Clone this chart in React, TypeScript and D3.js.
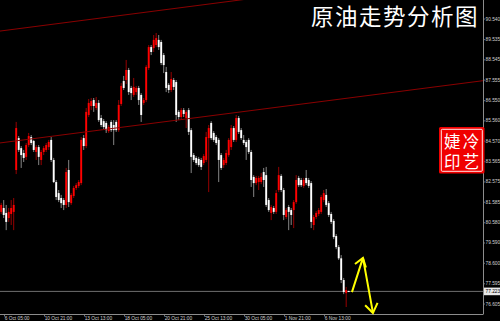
import React from "react";
import * as d3 from "d3";

// H4 candles, oldest first
const opens = [
  81.11, 81.30, 81.06, 80.81, 81.01, 81.11,
  83.16, 84.72, 84.23, 83.99, 83.80, 84.38, 84.77, 84.58, 84.04, 84.28,
  83.65, 84.04, 84.14, 84.28, 84.63, 83.65, 82.57, 82.03, 81.79, 81.69,
  81.45, 83.16, 81.54, 81.89, 82.28, 82.38, 82.52, 84.72, 84.33, 85.85,
  86.29, 86.58, 86.19, 86.44, 85.70, 85.55, 85.46, 85.06, 85.51, 85.36,
  85.51, 85.11, 86.39, 87.51, 87.56, 88.05, 87.17, 86.83, 86.97, 87.17,
  86.83, 86.44, 86.58, 88.15, 89.17, 89.12, 89.27, 89.52, 89.42, 88.78,
  87.95, 87.32, 87.07, 87.56, 87.46, 86.00, 85.75, 86.09, 85.70, 86.09,
  85.11, 83.89, 83.75, 83.70, 83.65, 83.50, 83.65, 84.72, 85.46, 84.97,
  84.77, 84.63, 83.89, 83.40, 83.50, 83.89, 84.28, 85.21, 84.63, 85.70,
  85.11, 84.63, 84.53, 84.63, 84.04, 82.82, 82.52, 82.57, 82.57, 83.06,
  82.91, 81.69, 81.06, 81.30, 81.11, 82.18, 82.87, 82.18, 80.86, 81.35,
  81.20, 81.20, 81.59, 82.77, 82.67, 82.38, 82.77, 82.67, 82.52, 80.47,
  80.86, 81.01, 81.11, 81.69, 81.94, 81.54, 81.01, 80.67, 79.93, 79.39,
  78.84, 77.78, 77.14, 77.24,
];
const highs = [
  81.55, 81.69, 81.45, 81.30, 81.69, 81.79,
  85.51, 84.82, 84.33, 84.14, 84.48, 84.97, 84.87, 84.63, 84.38, 84.38,
  84.14, 84.33, 84.48, 84.63, 84.77, 83.75, 82.67, 82.18, 81.94, 81.79,
  83.26, 83.65, 82.03, 82.38, 82.52, 82.67, 84.77, 84.87, 86.19, 86.63,
  86.68, 86.68, 86.73, 86.58, 85.85, 85.65, 85.55, 85.36, 85.60, 85.60,
  85.60, 86.58, 87.41, 87.76, 88.54, 88.15, 87.27, 87.66, 87.27, 87.27,
  86.92, 86.68, 88.29, 89.27, 89.27, 89.76, 89.86, 89.76, 89.52, 88.88,
  88.20, 87.41, 87.95, 87.66, 87.56, 86.09, 86.19, 86.19, 86.09, 86.19,
  85.21, 83.99, 83.84, 83.80, 83.75, 83.94, 85.02, 85.36, 85.55, 85.06,
  84.87, 84.72, 83.99, 83.75, 84.14, 84.72, 85.36, 85.31, 85.85, 85.80,
  85.21, 84.87, 84.63, 84.72, 84.14, 82.91, 82.87, 82.87, 83.01, 83.26,
  83.31, 81.79, 81.45, 81.40, 82.18, 83.31, 82.96, 82.28, 81.30, 81.45,
  81.30, 81.69, 82.91, 82.87, 82.77, 82.77, 83.16, 82.77, 82.62, 80.96,
  81.15, 81.30, 81.94, 82.18, 82.23, 81.64, 81.11, 80.76, 80.03, 79.49,
  79.00, 77.88, 77.44, 77.26,
];
const lows = [
  81.01, 80.81, 80.22, 80.62, 80.47, 80.22,
  82.96, 84.04, 83.26, 83.55, 83.65, 84.28, 84.38, 84.04, 83.65, 83.40,
  83.40, 83.89, 84.04, 84.14, 83.55, 82.52, 81.69, 81.59, 81.30, 81.20,
  81.30, 81.35, 81.45, 81.79, 82.18, 82.28, 82.42, 84.14, 84.23, 85.75,
  86.09, 86.00, 86.09, 85.51, 85.26, 85.16, 84.97, 84.97, 85.02, 84.38,
  85.02, 85.02, 86.29, 87.07, 87.36, 86.83, 86.58, 86.73, 86.83, 86.34,
  85.51, 86.34, 86.48, 88.05, 88.78, 88.93, 89.17, 89.03, 88.29, 87.90,
  86.97, 86.92, 86.97, 87.07, 85.51, 85.60, 85.65, 85.75, 85.21, 84.87,
  83.01, 83.55, 83.40, 83.31, 83.16, 83.40, 83.55, 82.08, 84.63, 84.53,
  84.38, 82.57, 83.16, 83.26, 83.40, 83.80, 84.14, 84.53, 84.53, 84.92,
  84.63, 84.38, 83.65, 83.94, 82.33, 81.84, 82.42, 82.18, 82.47, 82.33,
  81.35, 81.11, 80.71, 81.01, 81.01, 82.08, 82.08, 80.71, 80.76, 80.22,
  80.47, 80.32, 81.50, 82.33, 82.33, 82.28, 82.42, 82.28, 80.32, 80.22,
  80.76, 80.91, 81.01, 81.59, 81.35, 80.86, 80.52, 79.78, 79.29, 78.76,
  77.63, 77.09, 76.46, 77.21,
];
const closes = [
  81.45, 80.96, 80.62, 81.11, 81.30, 81.45,
  85.21, 84.14, 83.89, 83.75, 84.38, 84.82, 84.48, 84.14, 84.28, 83.80,
  84.04, 84.23, 84.38, 84.53, 83.65, 82.57, 81.84, 81.69, 81.54, 81.45,
  83.06, 81.59, 81.94, 82.28, 82.42, 82.57, 84.63, 84.33, 86.00, 86.44,
  86.53, 86.29, 86.44, 85.60, 85.36, 85.26, 85.11, 85.26, 85.11, 85.11,
  85.11, 86.34, 87.27, 87.17, 88.05, 86.97, 86.92, 87.22, 87.17, 86.58,
  85.85, 86.58, 88.20, 89.17, 88.93, 89.52, 89.61, 89.17, 88.39, 88.29,
  87.17, 87.07, 87.61, 87.22, 85.85, 85.75, 86.09, 85.90, 86.00, 85.02,
  83.80, 83.65, 83.50, 83.40, 83.31, 83.84, 84.77, 85.21, 84.72, 84.63,
  84.48, 83.65, 83.26, 83.65, 83.99, 84.63, 85.21, 84.63, 85.70, 85.02,
  84.72, 84.48, 84.28, 84.04, 82.67, 82.52, 82.77, 82.77, 82.82, 82.67,
  81.45, 81.20, 81.35, 81.11, 82.03, 82.91, 82.18, 80.96, 81.20, 81.11,
  80.96, 81.59, 82.67, 82.42, 82.42, 82.67, 82.52, 82.38, 80.62, 80.86,
  81.06, 81.20, 81.84, 82.03, 81.45, 80.96, 80.62, 79.88, 79.39, 78.84,
  77.78, 77.19, 77.29, 77.223,
];

// Time axis labels and the bar each one sits on
const timeLabels = [
  "6 Oct 05:00", "10 Oct 21:00", "13 Oct 13:00", "18 Oct 05:00", "20 Oct 21:00",
  "25 Oct 13:00", "30 Oct 05:00", "1 Nov 21:00", "6 Nov 13:00",
];
const timeLabelBars = [1, 17, 33, 49, 65, 81, 97, 113, 129];

// Price scale labels
const priceTicks = [
  91.53, 90.54, 89.535, 88.545, 87.555, 86.55, 85.56, 84.57, 83.565,
  82.575, 81.585, 80.58, 79.59, 78.6, 77.595, 76.605,
];

// Channel lines, as two anchors each (bar index, price)
const channelLower = [
  { bar: 0, price: 84.49 },
  { bar: 139, price: 86.68 },
];
const channelUpper = [
  { bar: 0, price: 89.96 },
  { bar: 139, price: 92.16 },
];

// Forecast arrow: up leg, then down leg
const arrowPoints = [
  { bar: 140.3, price: 77.19 },
  { bar: 144.7, price: 78.86 },
  { bar: 148.7, price: 76.17 },
];

const titleText = "原油走势分析图";
const sealChars = ["婕", "冷", "印", "艺"];

const W = 500;
const H = 321;
const PLOT_R = 483;
const PLOT_B = 314;
const SMALL_FONT = "'Liberation Sans', Arial, sans-serif";
const CJK_FONT = "'Noto Sans CJK SC', 'Noto Sans CJK TC', sans-serif";

function arrowHead(tip: [number, number], from: [number, number], len: number, ang: number) {
  const dx = tip[0] - from[0];
  const dy = tip[1] - from[1];
  const d = Math.hypot(dx, dy);
  const bx = -dx / d;
  const by = -dy / d;
  const c = Math.cos(ang);
  const s = Math.sin(ang);
  const w1: [number, number] = [tip[0] + len * (bx * c - by * s), tip[1] + len * (bx * s + by * c)];
  const w2: [number, number] = [tip[0] + len * (bx * c + by * s), tip[1] + len * (-bx * s + by * c)];
  return `M${w1[0]},${w1[1]}L${tip[0]},${tip[1]}L${w2[0]},${w2[1]}`;
}

export default function App() {
  const n = closes.length;
  const x = d3.scaleLinear().domain([0, n - 1]).range([1.2, 348.7]);
  const y = d3.scaleLinear().domain([76.118, 91.472]).range([PLOT_B, 0]);

  const bodyW = 1.9;

  const channel = (pts: { bar: number; price: number }[]) => {
    const slope = (pts[1].price - pts[0].price) / (pts[1].bar - pts[0].bar);
    const b0 = x.invert(0);
    const b1 = x.invert(PLOT_R);
    const p0 = pts[0].price + slope * (b0 - pts[0].bar);
    const p1 = pts[0].price + slope * (b1 - pts[0].bar);
    return { x1: 0, y1: y(p0), x2: PLOT_R, y2: y(p1) };
  };
  const lo = channel(channelLower);
  const up = channel(channelUpper);

  const arrowPx = arrowPoints.map((p) => [x(p.bar), y(p.price)] as [number, number]);
  const arrowLine = d3.line()(arrowPx) || "";
  const head1 = arrowHead(arrowPx[1], arrowPx[0], 10, (35 * Math.PI) / 180);
  const head2 = arrowHead(arrowPx[2], arrowPx[1], 11, (35 * Math.PI) / 180);

  const last = closes[n - 1];
  const lastY = y(last);

  return (
    <svg
      width={W}
      height={H}
      viewBox={`0 0 ${W} ${H}`}
      style={{ position: "fixed", left: 0, top: 0, display: "block", background: "#000" }}
    >
      <defs>
        <clipPath id="plotClip">
          <rect x={0} y={0} width={PLOT_R} height={PLOT_B} />
        </clipPath>
      </defs>
      <rect x={0} y={0} width={W} height={H} fill="#000" />

      <g clipPath="url(#plotClip)">
        {/* current price line */}
        <line x1={0} x2={PLOT_R} y1={lastY} y2={lastY} stroke="#6e6e6e" strokeWidth={1} />

        {/* candles */}
        {closes.map((c, i) => {
          const o = opens[i];
          const bull = c > o;
          const cx = x(i);
          const top = y(Math.max(o, c));
          const bot = y(Math.min(o, c));
          const h = Math.max(bot - top, 1);
          return (
            <g key={i}>
              <line
                x1={cx}
                x2={cx}
                y1={y(highs[i])}
                y2={y(lows[i])}
                stroke={bull ? "#a80000" : "#959595"}
                strokeWidth={0.9}
              />
              <rect
                x={cx - bodyW / 2}
                y={top}
                width={bodyW}
                height={h}
                fill={bull ? "#ff0000" : "#ffffff"}
              />
            </g>
          );
        })}

        {/* channel */}
        <line {...lo} stroke="#8a0000" strokeWidth={1} />
        <line {...up} stroke="#8a0000" strokeWidth={1} />
      </g>

      {/* axes frame */}
      <line x1={PLOT_R + 0.5} x2={PLOT_R + 0.5} y1={0} y2={PLOT_B} stroke="#8c8c8c" strokeWidth={1} />
      <line x1={0} x2={PLOT_R + 0.5} y1={PLOT_B + 0.5} y2={PLOT_B + 0.5} stroke="#8c8c8c" strokeWidth={1} />

      {/* price labels */}
      {priceTicks.map((p) => (
        <g key={p}>
          <line x1={PLOT_R} x2={PLOT_R + 2} y1={y(p)} y2={y(p)} stroke="#8c8c8c" strokeWidth={0.8} />
          <text
            x={485.5}
            y={y(p)}
            dominantBaseline="central"
            fontFamily={SMALL_FONT}
            fontSize={4.8}
            fill="#d0d0d0"
          >
            {p.toFixed(3)}
          </text>
        </g>
      ))}
      <rect x={484} y={lastY - 3.8} width={16} height={7.6} fill="#e8e8e8" />
      <text
        x={485.5}
        y={lastY}
        dominantBaseline="central"
        fontFamily={SMALL_FONT}
        fontSize={4.8}
        fill="#000"
      >
        {last.toFixed(3)}
      </text>

      {/* time labels */}
      {timeLabels.map((t, k) => {
        const tx = Math.round(x(timeLabelBars[k])) + 0.5;
        return (
          <g key={t}>
            <line x1={tx} x2={tx} y1={PLOT_B} y2={PLOT_B + 2.5} stroke="#8c8c8c" strokeWidth={0.8} />
            <text x={tx + 0.2} y={320.3} fontFamily={SMALL_FONT} fontSize={4.8} fill="#d0d0d0">
              {t}
            </text>
          </g>
        );
      })}

      {/* forecast arrow */}
      <g fill="none" stroke="#ffff00" strokeWidth={2} strokeLinejoin="miter" strokeLinecap="butt">
        <path d={arrowLine} />
        <path d={head1} />
        <path d={head2} />
      </g>

      {/* title */}
      <text
        x={311}
        y={25}
        fontFamily={CJK_FONT}
        fontSize={22.5}
        letterSpacing={1.5}
        fill="#ffffff"
      >
        {titleText}
      </text>

      {/* seal */}
      <g>
        <rect x={439} y={127} width={45.5} height={46.5} rx={1.5} fill="#f00000" />
        <rect
          x={441.3}
          y={129.3}
          width={41}
          height={42}
          rx={1}
          fill="none"
          stroke="#ffffff"
          strokeWidth={0.9}
        />
        {sealChars.map((ch, k) => {
          const col = k % 2;
          const row = Math.floor(k / 2);
          return (
            <text
              key={ch}
              x={452.3 + col * 18.8}
              y={141.3 + row * 19.2}
              textAnchor="middle"
              dominantBaseline="central"
              fontFamily={CJK_FONT}
              fontSize={16.5}
              fill="#ffffff"
            >
              {ch}
            </text>
          );
        })}
      </g>
    </svg>
  );
}
